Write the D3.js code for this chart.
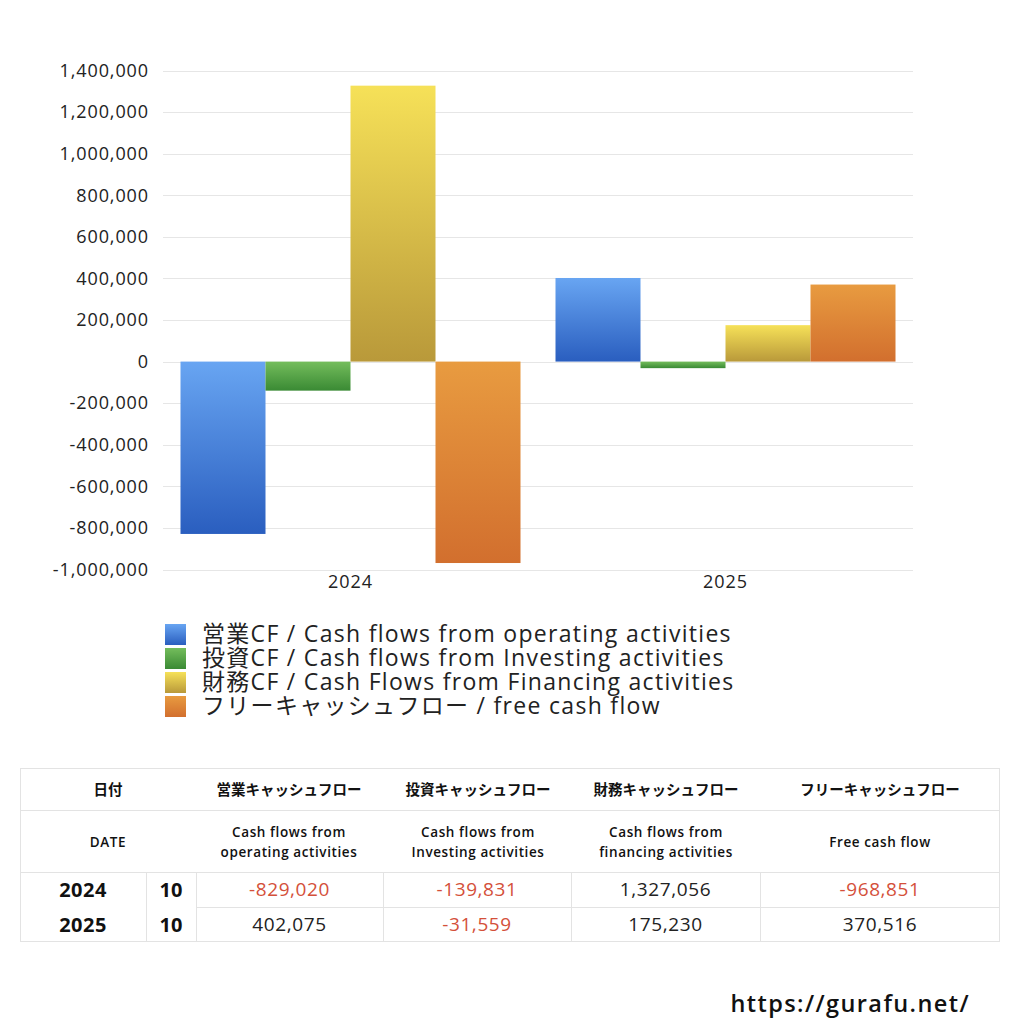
<!DOCTYPE html>
<html><head><meta charset="utf-8">
<script src="https://cdn.jsdelivr.net/npm/d3@7"></script>
<style>
html,body{margin:0;padding:0;background:#fff;}
svg{display:block;font-family:"Open Sans","Noto Sans CJK JP",sans-serif;}
</style></head>
<body>
<svg id="c" width="1024" height="1024"></svg>
<script>
const years = ["2024","2025"];
const months = ["10","10"];
const seriesKeys = ["op","inv","fin","free"];
const legendLabels = [
  "営業CF / Cash flows from operating activities",
  "投資CF / Cash flows from Investing activities",
  "財務CF / Cash Flows from Financing activities",
  "フリーキャッシュフロー / free cash flow"
];
const opValues = [-829020, 402075];
const invValues = [-139831, -31559];
const finValues = [1327056, 175230];
const freeValues = [-968851, 370516];
const yTicks = [-1000000,-800000,-600000,-400000,-200000,0,200000,400000,600000,800000,1000000,1200000,1400000];
const headerJa = ["日付","営業キャッシュフロー","投資キャッシュフロー","財務キャッシュフロー","フリーキャッシュフロー"];
const headerEn = [["DATE"],["Cash flows from","operating activities"],["Cash flows from","Investing activities"],["Cash flows from","financing activities"],["Free cash flow"]];

const seriesValues = [opValues, invValues, finValues, freeValues];
const gradColors = [["#68a5f2","#2a5ebf"],["#74bd5c","#3a8a34"],["#f6e158","#b9993a"],["#e89b40","#d26f2e"]];

const loc = d3.formatLocale({decimal:".",thousands:",",grouping:[3],currency:["",""],minus:"-"});
const fmt = loc.format(",");

const svg = d3.select("#c");
const defs = svg.append("defs");
gradColors.forEach((c,i)=>{
  const g = defs.append("linearGradient").attr("id","g"+i).attr("x1",0).attr("y1",0).attr("x2",0).attr("y2",1);
  g.append("stop").attr("offset","0%").attr("stop-color",c[0]);
  g.append("stop").attr("offset","100%").attr("stop-color",c[1]);
});

const x0b = d3.scaleBand().domain(years).range([163,913]);
const x1 = d3.scaleBand().domain(seriesKeys).range([0, 340]);
const y = d3.scaleLinear().domain([-1000000,1400000]).range([569.5,70.5]);

// grid
svg.append("g").selectAll("line").data(yTicks).join("line")
  .attr("x1",163).attr("x2",913).attr("y1",d=>Math.round(y(d))+0.5).attr("y2",d=>Math.round(y(d))+0.5)
  .attr("stroke","#e6e6e6").attr("stroke-width",1);

// y axis labels
const yAxis = d3.axisLeft(y).tickValues(yTicks).tickSize(0).tickPadding(0).tickFormat(fmt);
const ya = svg.append("g").attr("transform","translate(149,0)").call(yAxis);
ya.select(".domain").remove();
ya.selectAll("text").attr("font-size",18).attr("letter-spacing","0.9px").attr("fill","#222")
  .attr("font-family","'Open Sans',sans-serif");

// x axis labels
const xAxis = d3.axisBottom(x0b).tickSize(0).tickPadding(0);
const xa = svg.append("g").attr("transform","translate(0,575)").call(xAxis);
xa.select(".domain").remove();
xa.selectAll("text").attr("font-size",18).attr("letter-spacing","0.9px").attr("fill","#222")
  .attr("font-family","'Open Sans',sans-serif");

// bars
years.forEach((yr,yi)=>{
  const gx = x0b(yr) + (x0b.bandwidth()-340)/2;
  const g = svg.append("g").attr("transform",`translate(${gx},0)`);
  g.selectAll("rect").data(seriesKeys.map((k,si)=>({k,si,v:seriesValues[si][yi]}))).join("rect")
    .attr("x",d=>x1(d.k)).attr("width",x1.bandwidth())
    .attr("y",d=>Math.min(y(d.v),y(0)))
    .attr("height",d=>Math.abs(y(d.v)-y(0)))
    .attr("fill",d=>`url(#g${d.si})`);
});

// legend
const lg = svg.append("g");
legendLabels.forEach((t,i)=>{
  const cy = 634 + i*24;
  lg.append("rect").attr("x",165).attr("y",cy-10).attr("width",21).attr("height",21).attr("fill",`url(#g${i})`);
  lg.append("text").attr("x",202).attr("y",cy+8).attr("font-size",23).attr("letter-spacing","1.3px").attr("fill","#222").text(t);
});

// table
const T = svg.append("g");
const tx0 = 20, tx1 = 1000;
const rowY = [768,810,872,907,942];
const colX = [20,196,383,571,760,1000];
const colCenters = [108,289,478,666,880];
const border = "#e3e3e3";
T.append("rect").attr("x",tx0+0.5).attr("y",rowY[0]+0.5).attr("width",tx1-tx0-1).attr("height",rowY[4]-rowY[0]-1).attr("fill","none").attr("stroke",border);
T.append("line").attr("x1",tx0).attr("x2",tx1).attr("y1",rowY[1]+0.5).attr("y2",rowY[1]+0.5).attr("stroke",border);
T.append("line").attr("x1",tx0).attr("x2",tx1).attr("y1",rowY[2]+0.5).attr("y2",rowY[2]+0.5).attr("stroke",border);
T.append("line").attr("x1",196).attr("x2",tx1).attr("y1",rowY[3]+0.5).attr("y2",rowY[3]+0.5).attr("stroke",border);
[146,196,383,571,760].forEach(xv=>{
  T.append("line").attr("x1",xv+0.5).attr("x2",xv+0.5).attr("y1",rowY[2]).attr("y2",rowY[4]).attr("stroke",border);
});
headerJa.forEach((t,i)=>{
  T.append("text").attr("x",colCenters[i]).attr("y",795).attr("text-anchor","middle")
    .attr("font-size",14.5).attr("font-weight","bold").attr("fill","#111").text(t);
});
headerEn.forEach((lines,i)=>{
  lines.forEach((l,j)=>{
    const yy = lines.length===1 ? 847 : 837 + j*20;
    T.append("text").attr("x",colCenters[i]).attr("y",yy).attr("text-anchor","middle")
      .attr("font-size",13.5).attr("letter-spacing","0.6px").attr("font-weight","600").attr("fill","#111").text(l);
  });
});
years.forEach((yr,ri)=>{
  const cy = ri===0 ? 897 : 932;
  T.append("text").attr("x",83).attr("y",cy).attr("text-anchor","middle").attr("font-size",20).attr("letter-spacing","0.5px").attr("font-weight","bold").attr("fill","#111").text(yr);
  T.append("text").attr("x",171).attr("y",cy).attr("text-anchor","middle").attr("font-size",20).attr("font-weight","bold").attr("fill","#111").text(months[ri]);
  seriesValues.forEach((vals,si)=>{
    const v = vals[ri];
    T.append("text").attr("x",(colX[si+1]+colX[si+2])/2).attr("y",cy-1).attr("text-anchor","middle")
      .attr("font-size",19).attr("letter-spacing","0.6px").attr("fill", v<0 ? "#d4503a" : "#222").text(fmt(v));
  });
});

// url
svg.append("text").attr("x",970).attr("y",1012).attr("text-anchor","end").attr("font-size",23.5).attr("letter-spacing","1.4px").attr("font-weight","600").attr("fill","#111").text("https://gurafu.net/");
</script>
</body></html>
